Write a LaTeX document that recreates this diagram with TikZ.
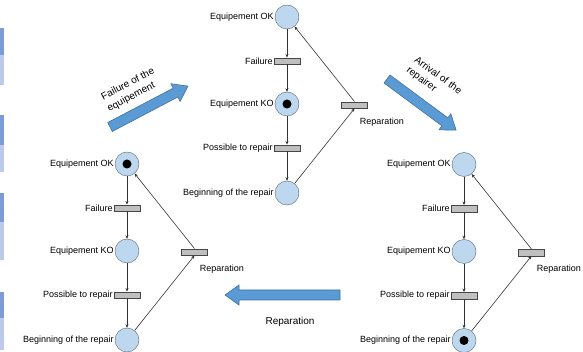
\documentclass[tikz,border=0pt]{standalone}
\usepackage{fontspec}
\setmainfont{Liberation Sans}
\usetikzlibrary{positioning,arrows.meta}
\definecolor{pFill}{RGB}{189,215,238}
\definecolor{pLine}{RGB}{90,100,120}
\definecolor{tFill}{RGB}{191,191,191}
\definecolor{tLine}{RGB}{70,70,70}
\definecolor{bFill}{RGB}{91,155,213}
\definecolor{bLine}{RGB}{65,113,156}
\definecolor{eDark}{RGB}{125,155,215}
\definecolor{eLight}{RGB}{190,202,235}
\tikzset{
  place/.style={circle, draw=pLine, fill=pFill, minimum size=24pt,
                inner sep=0pt, label distance=7pt},
  trans/.style={rectangle, draw=tLine, fill=tFill, minimum width=26pt,
                minimum height=6.5pt, inner sep=0pt, label distance=8pt},
  token/.style={circle, fill=black, minimum size=9pt, inner sep=0pt},
  lbl/.style={font=\fontsize{9}{10}\selectfont, inner sep=1pt},
  biglbl/.style={font=\fontsize{10}{13}\selectfont, align=left, inner sep=1pt},
  arc/.style={-{Stealth[length=3.5pt,width=3pt]}, draw=black!80, line width=0.6pt},
  blockarrow/.style={draw=bLine, fill=bFill, line width=0.6pt},
}
% one net: prefix, shift x, shift y, marked place
\newcommand{\PetriNet}[4]{%
  \begin{scope}[shift={(#2,#3)}]
    \node[place, label={[lbl]left:Equipement OK}] (#1ok) at (287,17) {};
    \node[trans, label={[lbl]left:Failure}] (#1fail) at (287,61) {};
    \node[place, label={[lbl]left:Equipement KO}] (#1ko) at (287,104) {};
    \node[trans, label={[lbl]left:Possible to repair}] (#1poss) at (287,148) {};
    \node[place, label={[lbl]left:Beginning of the repair}] (#1beg) at (287,193) {};
    \node[trans, label={[lbl, anchor=north west, xshift=-9pt, yshift=-8pt]south east:Reparation}]
      (#1rep) at (354.5,105) {};
  \end{scope}
  \node[token] (#1tok) at (#1#4) {};
  \draw[arc] (#1ok) -- (#1fail);
  \draw[arc] (#1fail) -- (#1ko);
  \draw[arc] (#1ko) -- (#1poss);
  \draw[arc] (#1poss) -- (#1beg);
  \draw[arc] (#1beg) -- (#1rep.south);
  \draw[arc] (#1rep.north) -- (#1ok);
}
% wide arrow: x, y, angle, length
\newcommand{\BlockArrow}[4]{%
  \filldraw[blockarrow, shift={(#1,#2)}, rotate=#3]
    (0,-5) -- ({#4-14},-5) -- ({#4-14},-10) -- (#4,0) -- ({#4-14},10)
    -- ({#4-14},5) -- (0,5) -- cycle;}

\begin{document}
\begin{tikzpicture}[x=1pt, y=-1pt]
  \useasboundingbox (0,0) rectangle (583,352);

  % cut-off pieces on the left edge
  \fill[eDark] (0,28) rectangle (3.5,55);
  \fill[eLight] (0,55) rectangle (3.5,85);
  \fill[eDark] (0,115) rectangle (3.5,145);
  \fill[eLight] (0,145) rectangle (3.5,172);
  \fill[eDark] (0,193) rectangle (3.5,222);
  \fill[eLight] (0,222) rectangle (3.5,260);
  \fill[eDark] (0,292) rectangle (3.5,318);
  \fill[eLight] (0,318) rectangle (3.5,350);

  \PetriNet{t}{0}{0}{ko}
  \PetriNet{l}{-160}{147}{ok}
  \PetriNet{r}{177}{147.5}{beg}

  \BlockArrow{110}{127}{27.7}{88}
  \node[biglbl, rotate=27.7] (failtxt) at (131,90) {Failure of the\\equipement};

  \BlockArrow{387}{79}{-36.5}{86}
  \node[biglbl, rotate=-36.5] (arrtxt) at (434,81) {Arrival of the\\repairer};

  \BlockArrow{340}{295}{180}{115}
  \node[biglbl] (reptxt) at (290,322) {Reparation};
\end{tikzpicture}
\end{document}
